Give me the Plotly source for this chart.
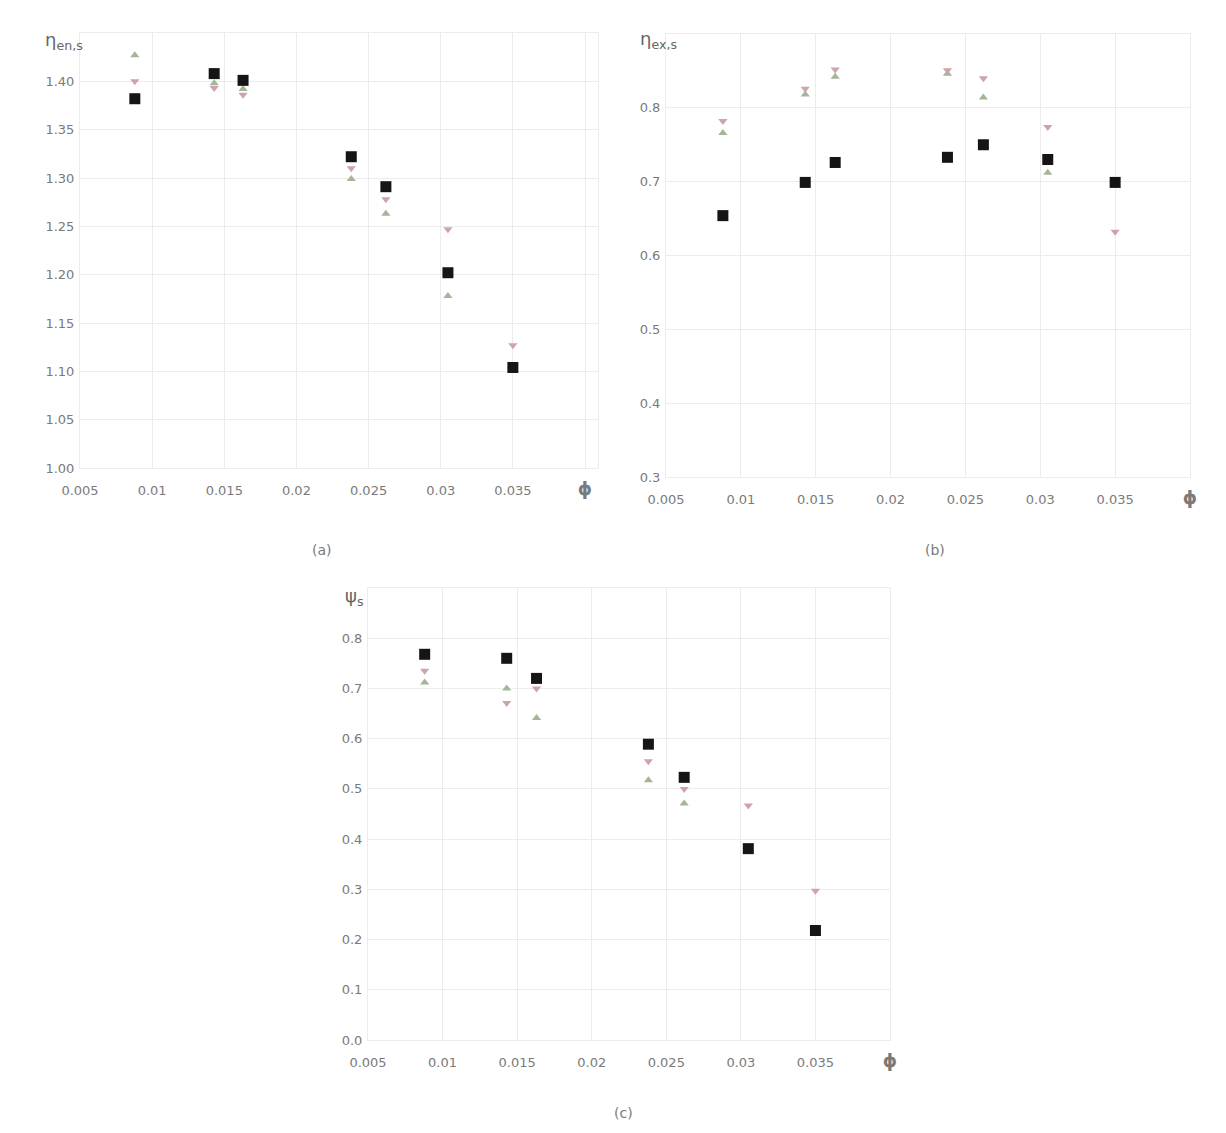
import plotly.graph_objects as go

phi = [0.0088, 0.0143, 0.0163, 0.0238, 0.0262, 0.0305, 0.0350]

# panel (a)
a_black = [1.382, 1.408, 1.401, 1.322, 1.291, 1.202, 1.104]
a_pink = [1.400, 1.393, 1.386, 1.310, 1.278, 1.247, 1.127]
a_green = [1.427, 1.398, 1.392, 1.299, 1.263, 1.178, 1.104]

# panel (b)
b_black = [0.654, 0.699, 0.726, 0.733, 0.750, 0.730, 0.699]
b_pink = [0.782, 0.826, 0.852, 0.851, 0.840, 0.774, 0.632]
b_green = [0.766, 0.818, 0.842, 0.846, 0.814, 0.712, 0.700]

# panel (c)
c_black = [0.768, 0.760, 0.720, 0.589, 0.523, 0.381, 0.218]
c_pink = [0.735, 0.671, 0.700, 0.555, 0.500, 0.467, 0.297]
c_green = [0.712, 0.700, 0.641, 0.517, 0.471, 0.381, 0.218]

x_tickvals = [0.005, 0.01, 0.015, 0.02, 0.025, 0.03, 0.035, 0.04]
x_ticktext = ["0.005", "0.01", "0.015", "0.02", "0.025", "0.03", "0.035",
              "<span style='font-size:18px'><b>ϕ</b></span>"]

a_ticks = [1.00, 1.05, 1.10, 1.15, 1.20, 1.25, 1.30, 1.35, 1.40]
b_ticks = [0.3, 0.4, 0.5, 0.6, 0.7, 0.8]
c_ticks = [0.0, 0.1, 0.2, 0.3, 0.4, 0.5, 0.6, 0.7, 0.8]

y_titles = ["η<sub>en,s</sub>", "η<sub>ex,s</sub>", "ψ<sub>s</sub>"]
captions = ["(a)", "(b)", "(c)"]

BLACK = "#151515"
PINK = "#cfa3ad"
GREEN = "#a4b59a"
GRID = "#ececec"
TXT = "#7a7a7a"

fig = go.Figure()

panels = [
    ("x", "y", a_black, a_pink, a_green),
    ("x2", "y2", b_black, b_pink, b_green),
    ("x3", "y3", c_black, c_pink, c_green),
]
for xa, ya, bk, pk, gr in panels:
    fig.add_trace(go.Scatter(x=phi, y=gr, mode="markers", xaxis=xa, yaxis=ya,
                             marker=dict(symbol="triangle-up", size=8, color=GREEN),
                             showlegend=False))
    fig.add_trace(go.Scatter(x=phi, y=pk, mode="markers", xaxis=xa, yaxis=ya,
                             marker=dict(symbol="triangle-down", size=8, color=PINK),
                             showlegend=False))
    fig.add_trace(go.Scatter(x=phi, y=bk, mode="markers", xaxis=xa, yaxis=ya,
                             marker=dict(symbol="square", size=11, color=BLACK),
                             showlegend=False))

W, H = 1226, 1133
def dom_x(l, r):
    return [l / W, r / W]
def dom_y(top, bottom):
    return [1 - bottom / H, 1 - top / H]

xcommon = dict(tickvals=x_tickvals, ticktext=x_ticktext,
               showgrid=True, gridcolor=GRID, zeroline=False,
               showline=True, linecolor=GRID, mirror=True,
               ticks="outside", ticklen=10, tickcolor="rgba(0,0,0,0)",
               tickfont=dict(family="DejaVu Sans", size=13, color=TXT))
ycommon = dict(showgrid=True, gridcolor=GRID, zeroline=False,
               showline=True, linecolor=GRID, mirror=True,
               ticks="outside", ticklen=2, tickcolor="rgba(0,0,0,0)",
               tickfont=dict(family="DejaVu Sans", size=13, color=TXT))

fig.update_layout(
    width=W, height=H,
    margin=dict(l=0, r=0, t=0, b=0, autoexpand=False),
    paper_bgcolor="white", plot_bgcolor="white",
    xaxis=dict(domain=dom_x(80, 598), anchor="y", range=[0.005, 0.0409], **xcommon),
    yaxis=dict(domain=dom_y(33, 468), anchor="x", range=[1.0, 1.45],
               tickvals=a_ticks, tickformat=".2f", **ycommon),
    xaxis2=dict(domain=dom_x(666, 1190), anchor="y2", range=[0.005, 0.04], **xcommon),
    yaxis2=dict(domain=dom_y(34, 477), anchor="x2", range=[0.3, 0.9],
                tickvals=b_ticks, tickformat=".1f", **ycommon),
    xaxis3=dict(domain=dom_x(368, 890), anchor="y3", range=[0.005, 0.04], **xcommon),
    yaxis3=dict(domain=dom_y(588, 1040), anchor="x3", range=[0.0, 0.9],
                tickvals=c_ticks, tickformat=".1f", **ycommon),
)

title_shift = [(-37, -8), (-28, -6), (-25, -9)]
caption_pos = [(322, 550), (935, 550), (623, 1113)]
annots = []
for i, (xa, ya) in enumerate([("x", "y"), ("x2", "y2"), ("x3", "y3")]):
    annots.append(dict(text=y_titles[i], xref=f"{xa} domain", yref=f"{ya} domain",
                       x=0, y=1, xanchor="left", yanchor="middle", showarrow=False,
                       xshift=title_shift[i][0], yshift=title_shift[i][1],
                       font=dict(family="DejaVu Sans", size=18, color="#666")))
    cx, cy = caption_pos[i]
    annots.append(dict(text=captions[i], xref="paper", yref="paper",
                       x=cx / W, y=1 - cy / H, xanchor="center", yanchor="middle",
                       showarrow=False,
                       font=dict(family="DejaVu Sans", size=14, color=TXT)))
fig.update_layout(annotations=annots)

fig.write_html("out.html")
